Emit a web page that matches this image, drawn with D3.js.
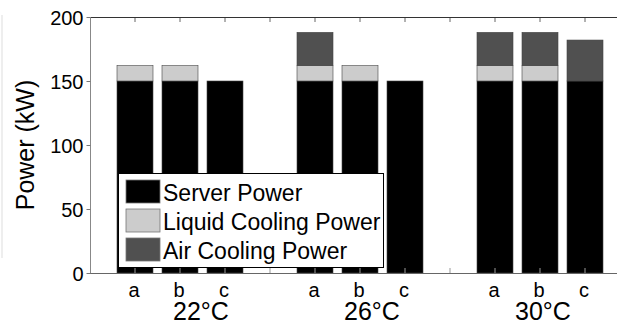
<!DOCTYPE html>
<html>
<head>
<meta charset="utf-8">
<script src="https://d3js.org/d3.v7.min.js"></script>
<style>
  body { margin: 0; background: #fff; }
  text { font-family: "Liberation Sans", Arial, sans-serif; fill: #000; }
</style>
</head>
<body>
<script>
var w = 617, h = 323;

// data
var temps = ["22\u00B0C", "26\u00B0C", "30\u00B0C"];
var configs = ["a", "b", "c"];
var serverPower = [150, 150, 150, 150, 150, 150, 150, 150, 150];
var liquidPower = [12, 12, 0, 12, 12, 0, 12, 12, 0];
var airPower = [0, 0, 0, 26, 0, 0, 26, 26, 32];
var seriesNames = ["Server Power", "Liquid Cooling Power", "Air Cooling Power"];
var seriesColors = ["#000000", "#cccccc", "#505050"];
var yTicks = [0, 50, 100, 150, 200];

// bar slot positions: 3 per group with a gap slot between groups
var pos = [];
temps.forEach(function (t, g) {
  configs.forEach(function (c, k) { pos.push(g * 4 + k + 1); });
});

var padL = 90, padT = 17, baseY = 273;
var x = d3.scaleLinear().domain([0, 12]).range([padL, padL + 540]);
var y = d3.scaleLinear().domain([0, 200]).range([baseY, padT]);
var bw = (x(1) - x(0)) * 0.8;

var svg = d3.select("body").append("svg").attr("width", w).attr("height", h);

// faint edge line from neighbouring panel
svg.append("line").attr("x1", 2).attr("x2", 2).attr("y1", 15).attr("y2", 258)
  .attr("stroke", "#ddd").attr("stroke-width", 1);

// stacked bars
var rows = pos.map(function (p, i) {
  return { p: p, s: serverPower[i], l: liquidPower[i], a: airPower[i] };
});
var stack = d3.stack().keys(["s", "l", "a"])(rows);

svg.append("g").selectAll("g").data(stack).join("g")
  .attr("fill", function (d, i) { return seriesColors[i]; })
  .selectAll("rect").data(function (d) { return d.filter(function (e) { return e[1] > e[0]; }); })
  .join("rect")
  .attr("x", function (d) { return x(d.data.p) - bw / 2; })
  .attr("width", bw)
  .attr("y", function (d) { return y(d[1]); })
  .attr("height", function (d) { return y(d[0]) - y(d[1]); })
  .attr("stroke", "#444").attr("stroke-width", 0.6);

// ticks on top and bottom (inward)
var xt = d3.range(1, 12);
svg.append("g").selectAll("line").data(xt).join("line")
  .attr("x1", function (d) { return x(d); }).attr("x2", function (d) { return x(d); })
  .attr("y1", padT).attr("y2", padT + 5).attr("stroke", "#666");
svg.append("g").selectAll("line").data(xt).join("line")
  .attr("x1", function (d) { return x(d); }).attr("x2", function (d) { return x(d); })
  .attr("y1", baseY).attr("y2", baseY - 5).attr("stroke", "#999");

// frame lines
svg.append("line").attr("x1", padL).attr("x2", w).attr("y1", padT + 0.5).attr("y2", padT + 0.5)
  .attr("stroke", "#333");
svg.append("line").attr("x1", padL).attr("x2", w).attr("y1", baseY + 0.5).attr("y2", baseY + 0.5)
  .attr("stroke", "#666");
svg.append("line").attr("x1", padL + 0.5).attr("x2", padL + 0.5).attr("y1", padT).attr("y2", baseY)
  .attr("stroke", "#888");

// y axis
var yAxis = d3.axisLeft(y).tickValues(yTicks).tickSize(4).tickPadding(3);
var ya = svg.append("g").attr("transform", "translate(" + (padL + 0.5) + ",0)").call(yAxis);
ya.select(".domain").remove();
ya.selectAll("line").attr("stroke", "#777");
ya.selectAll("text").style("font-size", "20px").attr("dy", "0.36em");

svg.append("text").attr("transform", "translate(34," + ((padT + baseY) / 2) + ") rotate(-90)")
  .attr("text-anchor", "middle").style("font-size", "25px").text("Power (kW)");

// x labels
svg.append("g").selectAll("text").data(pos).join("text")
  .attr("x", function (d) { return x(d) - 1; }).attr("y", 297)
  .attr("text-anchor", "middle").style("font-size", "20px")
  .text(function (d, i) { return configs[i % 3]; });
var tempShift = [21, 12, 3];
svg.append("g").selectAll("text").data(temps).join("text")
  .attr("x", function (d, g) { return x(g * 4 + 2) + tempShift[g]; }).attr("y", 320)
  .attr("text-anchor", "middle").style("font-size", "25px")
  .text(function (d) { return d; });

// legend
var lg = svg.append("g");
lg.append("rect").attr("x", 118.5).attr("y", 173.5).attr("width", 265).attr("height", 94)
  .attr("fill", "#fff").attr("stroke", "#000").attr("stroke-width", 1);
var item = lg.selectAll("g").data(seriesNames).join("g")
  .attr("transform", function (d, i) { return "translate(126," + (180 + i * 29) + ")"; });
item.append("rect").attr("width", 34).attr("height", 23)
  .attr("fill", function (d, i) { return seriesColors[i]; })
  .attr("stroke", "#777").attr("stroke-width", 0.8);
item.append("text").attr("x", 37).attr("y", 21).style("font-size", "23px")
  .text(function (d) { return d; });
</script>
</body>
</html>
